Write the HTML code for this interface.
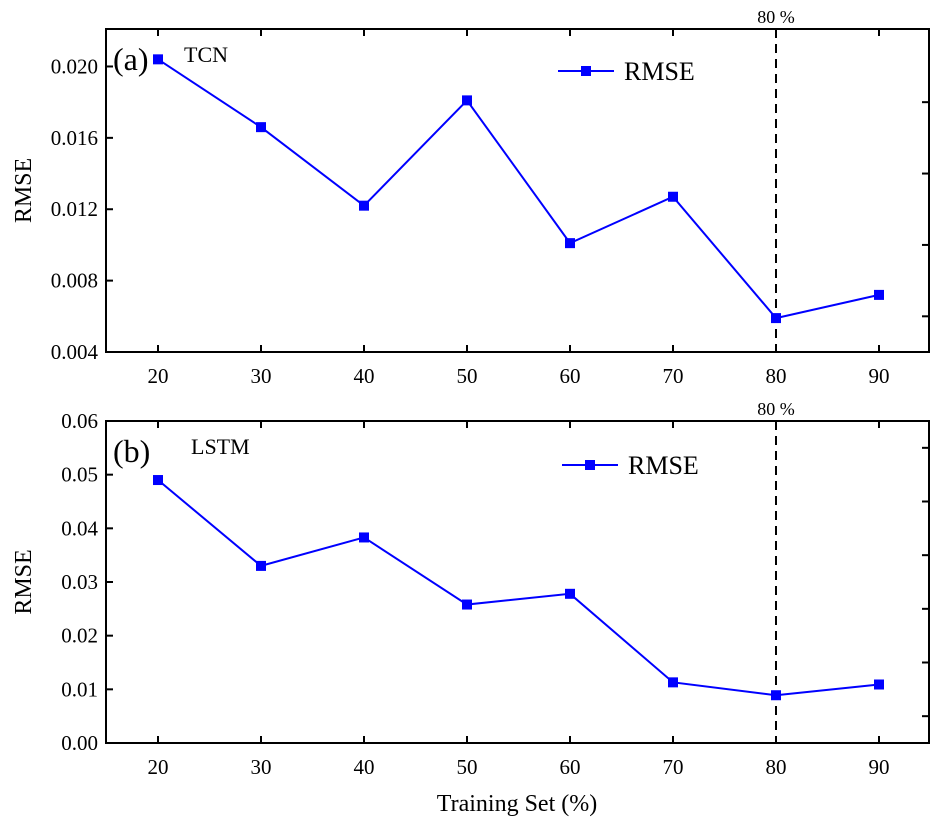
<!DOCTYPE html>
<html><head><meta charset="utf-8"><style>
body{margin:0;background:#fff}
svg{display:block;font-family:"Liberation Serif",serif}
</style></head><body>
<svg id="c" width="944" height="827"></svg>
<script>
const categories=[20,30,40,50,60,70,80,90];
const tcnValues=[0.0204,0.0166,0.0122,0.0181,0.0101,0.0127,0.0059,0.0072];
const lstmValues=[0.049,0.033,0.0383,0.0258,0.0278,0.0113,0.0089,0.0109];
const tcnTicks=[0.004,0.008,0.012,0.016,0.020];
const tcnTickLabels=["0.004","0.008","0.012","0.016","0.020"];
const lstmTicks=[0,0.01,0.02,0.03,0.04,0.05,0.06];
const lstmTickLabels=["0.00","0.01","0.02","0.03","0.04","0.05","0.06"];
const svg=document.getElementById('c');
const NS='http://www.w3.org/2000/svg';
function mk(t,a,p){const e=document.createElementNS(NS,t);for(const k in a)e.setAttribute(k,a[k]);(p||svg).appendChild(e);return e;}
function x(v){return 158+(v-20)*10.3;}
function panel(o){
  const g=mk('g',{});
  
  
  const y=v=>o.bottom-(v-o.ymin)/(o.ymax-o.ymin)*(o.bottom-o.top);
  mk('rect',{x:106,y:o.top,width:823,height:o.bottom-o.top,fill:'none',stroke:'#000','stroke-width':2},g);
  categories.forEach(c=>{
    mk('line',{x1:x(c),x2:x(c),y1:o.bottom,y2:o.bottom-7,stroke:'#000','stroke-width':2},g);
    mk('line',{x1:x(c),x2:x(c),y1:o.top,y2:o.top+7,stroke:'#000','stroke-width':2},g);
    const t=mk('text',{x:x(c),y:o.bottom+31,'text-anchor':'middle','font-size':21},g);t.textContent=c;
    
    
  });
  o.ticks.forEach((v,i)=>{
    mk('line',{x1:106,x2:113,y1:y(v),y2:y(v),stroke:'#000','stroke-width':2},g);
    const t=mk('text',{x:98,y:y(v)+7,'text-anchor':'end','font-size':21},g);t.textContent=o.labels[i];
    
    
    if(i<o.ticks.length-1){const m=(v+o.ticks[i+1])/2;mk('line',{x1:929,x2:922,y1:y(m),y2:y(m),stroke:'#000','stroke-width':2},g);}
  });
  const yl=mk('text',{x:0,y:0,'font-size':24,'text-anchor':'middle',transform:`translate(31,${(o.top+o.bottom)/2}) rotate(-90)`},g);yl.textContent='RMSE';
  
  
  mk('line',{x1:x(80),x2:x(80),y1:o.top,y2:o.bottom,stroke:'#000','stroke-width':2,'stroke-dasharray':'9,6'},g);
  const p=mk('text',{x:x(80),y:o.top-6,'text-anchor':'middle','font-size':18},g);p.textContent='80 %';
  
  
  const pts=o.vals.map((v,i)=>x(categories[i])+','+y(v)).join(' ');
  const pl=mk('polyline',{points:pts,fill:'none',stroke:'#0000ff','stroke-width':2},g);
  
  
  o.vals.forEach((v,i)=>{
    const r=mk('rect',{x:x(categories[i])-5,y:y(v)-5,width:10,height:10,fill:'#0000ff'},g);
    
    
  });
  const a=mk('text',{x:113,y:o.top+41,'font-size':32},g);a.textContent=o.tag;
  
  
  const m=mk('text',{x:o.mx,y:o.top+33,'font-size':22},g);m.textContent=o.model;
  
  
  const lg=mk('g',{},g);
  
  
  mk('line',{x1:o.lx,x2:o.lx+56,y1:o.ly,y2:o.ly,stroke:'#0000ff','stroke-width':2},lg);
  mk('rect',{x:o.lx+23,y:o.ly-5,width:10,height:10,fill:'#0000ff'},lg);
  const lt=mk('text',{x:o.lx+66,y:o.ly+9,'font-size':26},lg);lt.textContent='RMSE';
}
panel({name:'tcn-panel',top:29,bottom:352,ymin:0.004,ymax:0.0221,ticks:tcnTicks,labels:tcnTickLabels,vals:tcnValues,tag:'(a)',model:'TCN',mx:184,lx:558,ly:71});
panel({name:'lstm-panel',top:421,bottom:743,ymin:0,ymax:0.06,ticks:lstmTicks,labels:lstmTickLabels,vals:lstmValues,tag:'(b)',model:'LSTM',mx:191,lx:562,ly:465});
const xt=mk('text',{x:517,y:811,'text-anchor':'middle','font-size':24});xt.textContent='Training Set (%)';


</script>
</body></html>
